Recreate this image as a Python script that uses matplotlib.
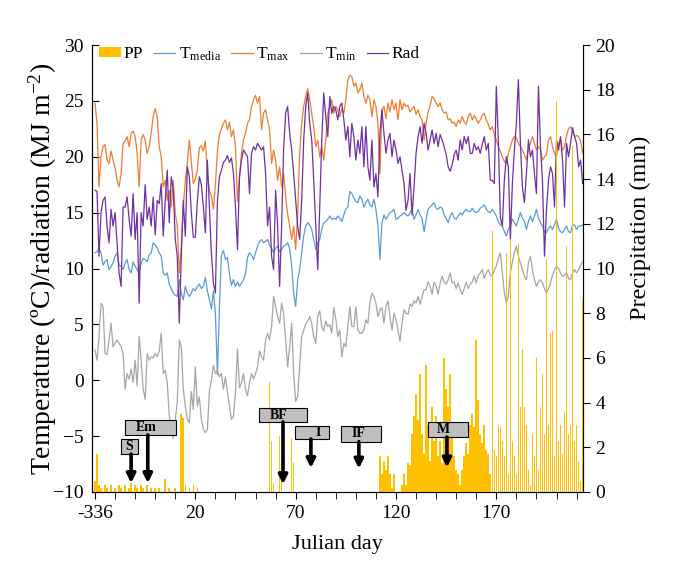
import numpy as np
import matplotlib
matplotlib.use("Agg")
import matplotlib.pyplot as plt
from matplotlib.patches import Patch, Rectangle
from matplotlib.lines import Line2D

plt.rcParams['font.family'] = ['Liberation Serif', 'DejaVu Serif']
plt.rcParams['mathtext.fontset'] = 'custom'
plt.rcParams['mathtext.rm'] = 'Liberation Serif'
plt.rcParams['mathtext.it'] = 'Liberation Serif:italic'

# daily series, day -30 .. 213
days = np.arange(-30, 214)

t_max = [24.8, 23, 17.3, 20, 20.9, 21.1, 19.7, 19.4, 20.5, 19.7,
         19, 17.9, 17.3, 18.5, 21.2, 21.4, 21.8, 20.9, 22.1, 22.3,
         21.8, 20.3, 17.3, 21.5, 22, 21.5, 20.3, 20.9, 22.1, 23.6,
         24.3, 23.6, 20.9, 20, 17.3, 17.9, 16.1, 17, 15.5, 17.9,
         14.9, 13.8, 9.6, 12, 15.5, 17.9, 19.4, 21.5, 19.5, 17.6,
         18, 18.8, 20.8, 21, 20.5, 21.4, 18.5,
         17, 16.5, 15.3, 17.5, 20.5, 22, 22.5, 23,
         23.3, 22.4, 23.1, 21.8, 22.4, 20.9, 16, 18.2, 20.3, 21.5,
         22.1, 23, 23.3, 24.5, 25.1, 25.5, 24.8, 25.4, 22.4, 23.9,
         24.2, 23.3, 22.4, 19.4, 20.6, 19.7, 17.9, 19.1, 17.3, 18.5,
         16.4, 14.9, 13.8, 12.6, 13.8, 11.7, 14.9, 20.3, 23, 24.5,
         25.4, 26.1, 25.1, 23.9, 22.7, 20.9, 21.5, 20, 20.9, 19.7,
         21.5, 23.9, 24.5, 25.1, 23.9, 24.5,
         24.2, 23.6, 24.3, 23.9, 25.1, 26.9, 27.3, 27.2, 26.3, 26.6,
         25.7, 26, 26.6, 25.4, 24.8, 25.5, 25.1, 23.6, 25.1, 24.5,
         23, 18.5, 24.2, 24.5, 23.4, 24.8, 24, 25.1, 24.2, 24.8,
         23.3, 25.1, 24.2, 24.8, 24.5, 24.6, 24, 24.3, 24.5, 23.8,
         24.2, 23.6, 23.3, 21.5, 23, 24, 24.6, 25.4, 25.2, 24.8,
         24.5, 24.8, 24.2, 23.9, 24, 23.3, 23.4, 23, 23.1, 22.7,
         23.3, 23, 23.6, 23.1, 22.9, 23.6, 23.9, 23.3, 23.7, 23.4,
         23, 23.3, 23.7, 23.9, 23.3, 22.9, 22.4, 22.7, 22, 21.5,
         20.9, 20.5, 20, 19.6, 19.4, 20.3, 20.9, 21.5, 21.8, 21.7,
         21.2, 20.9, 20.6, 20.2, 19.7, 20.6, 21.2, 21.8, 21.2, 20.6,
         20.9, 20.6, 19.7, 20, 20.2, 21.5, 21.8, 20.9, 20.3, 20,
         21.2, 21.5, 20.6, 20.9, 21.9, 22.5, 22.7, 22.3, 21.8, 21.9,
         21.8, 21.4, 20.3]

t_media = [11.4, 11.5, 11.8, 11.4, 10.3, 10.6, 10.8, 9.9, 10.2, 10.5,
           11.1, 11.4, 10.3, 10.2, 9.9, 10.5, 10.8, 9.9, 9.6, 10.6,
           10.2, 9.9, 9.6, 10.5, 10.9, 10.8, 10.6, 11.2, 11.4, 12.3,
           12.1, 11.8, 11.4, 11.1, 9.6, 9.4, 9.6, 8.6, 8.2, 7.8,
           7.6, 7.5, 9, 7.8, 7.2, 8.4, 7.8,
           7.5, 7.8, 8.2, 8.0, 8.4, 8.6, 8.2, 8.4, 9.2, 8.0,
           7.2, 6.4, 8.0, 6.0, 0.5, 6.5, 11.2, 11.6, 10.8, 11.0,
           9.5, 8.5, 9.0, 8.4, 8.8, 8.4, 8.7, 9.0, 9.5, 11.0, 11.4,
           11.2, 10.8, 11.4, 12, 12.4, 12.6, 12.3, 12.4, 12.6, 12.1,
           11.8, 11.4, 11.8, 12, 11.5, 11.7, 12, 12.1, 12.3, 11.8,
           10.2, 7.8, 6.6, 9, 9.9, 11.4, 12.9, 13.8, 14.1, 13.9,
           13.5, 12.6, 11.7, 12.3, 12.6, 13.5, 14.1, 14.2, 14.4, 14.7,
           14.4, 14.5, 14.4,
           14.7, 14.5, 14.2, 14.8, 15.3, 15.5, 16.9, 16.7, 16.3, 16,
           15.9, 16.5, 16.2, 15.5, 15.9, 16.2, 15.7, 15.5, 16.2, 15.3,
           13.8, 10.8, 14.1, 14.8, 14.4, 14.7, 15, 15.1, 15.3, 14.4,
           14.5, 14.7, 14.8, 15, 14.8, 14.7, 15, 15.3, 14.4, 14.8,
           15.3, 14.8, 14.5, 13.3, 14.4, 15.3, 15.5, 15.7, 15.9, 15.4,
           15.3, 15.5, 15.4, 14.8, 14.5, 14.1, 14.7, 15, 14.5, 14.4,
           14.7, 15, 14.8, 15.1, 15.3, 15.1, 15.1, 15.4, 15.1, 15,
           15.1, 15.4, 15.5, 15.7, 15.3, 15.1, 15, 15.3, 15, 14.7,
           14.2, 13.9, 13.8, 13.3, 12.9, 13.5, 13.9, 14.4, 14.1, 13.8,
           14.4, 15, 14.5, 14.2, 13.5, 14.2, 14.7, 14.2, 14.7, 15.3,
           14.5, 14.1, 13.8, 13.3, 13.2, 13.6, 13.8, 13.5, 13.9, 14.4,
           13.6, 13.3, 13.2, 13.5, 13.8, 13.3, 13.2, 13.9, 13.9, 13.5,
           13.8, 13.8, 13.9]

t_min = [2.7, 1.8, 3.9, 6.9, 6.6, 2.4, 2.3, 3.6, 5.1, 3,
         3.3, 3.6, 3.3, 3, 2.4, -0.8, 0.6, 0.1, 1, -0.2,
         1.8, -0.5, 3.9, 1.8, -0.8, -1.7, 2.4, 1.8, 2.1, 2,
         2.4, 2.1, 2.6, 4.2, 0.6, 0.9, -0.2, -3.2, -4.3, -5.2,
         -3.5, -2, 3.6, 3, -0.8, -2.3, -3.5, -3.8, -1.0, -2.6,
         1.2, -2.3, -1.5, -3.5, -4.4, -4.7, -4.4, -1.0, 0.0, 1.3,
         0.6,
         0.9, 0.3, 0.6, -0.8, 0.3, -1.1, -2.3, -3.5, -3.2, -1.1,
         2.8, -0.7, -0.2, 0.6, -0.8, -1.4, -0.2, 0.6, 0.1, 0.6,
         1.2, 2.6, 2.1, 1.8, 3.6, 4.2, 3.6, 4.8, 7.5, 6.6,
         5.7, 5.1, 6.9, 6, 3.6, 1.2, 3, 5.1, 0.6, -1.9,
         -1.4, 1.2, 3.9, 4.5, 5, 5.3, 5.7, 5.1, 3.9, 3.3,
         5.7, 6.2, 4.8, 4.4, 5.3, 4.8, 5, 4.2, 6.5, 5.5,
         3.9, 4.5, 2.1, 3.3, 3, 4.8, 6.6, 4.8, 4.8, 6.6,
         4.5, 4.2, 4.2, 4.5, 5.4, 5.1, 6.9, 7.8, 7.5, 6.9,
         5.7, 6.3, 6.5, 5.1, 6.6, 7.1, 5.7, 4.5, 6, 5.4,
         4.5, 3.5, 5.1, 6.3, 6, 5.9, 6.8, 6.6, 7.1, 6.9,
         7.5, 6.8, 7.5, 8.1, 8.1, 8.8, 8.4, 7.7, 8.8, 8.4,
         7.7, 8.7, 9.3, 8.8, 8.6, 9, 9.6, 8.7, 8.8, 8.2,
         8.7, 8.1, 7.7, 8.2, 8.8, 8.2, 8.6, 8.8, 9.3, 8.7,
         9.4, 9.6, 9.9, 9.1, 9.6, 9.9, 9.4, 9.3, 9.9, 10.2,
         10.9, 11.4, 9.6, 7.8, 6.9, 7.5, 9.6, 10.6, 11.4, 12,
         11.1, 10.5, 9.9, 9.3, 9, 10.5, 11.1, 9.9, 9, 8.4,
         8.8, 9, 8.7, 8.2, 7.8, 8.2, 8.7, 9.4, 9.9, 10.2,
         10, 9.6, 9.3, 9.4, 9.6, 9.1, 9, 9.6, 9.9, 9.6,
         9.9, 10.3, 10.6]

rad = [17, 16.9, 11.1, 15, 16.1, 16.4, 13.8, 12.3, 15.3, 13.8,
       15, 12.3, 9.6, 8.4, 15.5, 15.5, 16.4, 14.4, 12.9, 16.7,
       12.6, 15, 6.9, 15, 13.8, 17.5, 14.4, 15.5, 13.8, 16.4,
       13, 16.1, 15.8, 17.6, 12.9, 16.1, 18.8, 14.1, 18.2, 17,
       12.6, 11.1, 5.1, 11.1, 16.1, 12.9, 19.1,
       18.2, 15, 12.8, 12.8, 16, 18.2, 17.5, 15.5, 13.2, 19.7,
       15.5, 11.4, 8.7, 7.8, 16, 18.2, 18.8, 19.5, 19.7, 20.1,
       19.5, 19.9, 18.5, 15.5, 11.7, 18.2, 19.7, 20.6,
       20.3, 20, 16.7, 20.3, 20.9, 20.6, 21.2, 20.9, 20.6, 20.9,
       18.5, 13.8, 15.5, 11.1, 9.9, 17, 13.8, 8.4, 13.8, 20.6,
       23.9, 24.5, 22.1, 20.6, 18.5, 16.1, 13.8, 12.6, 16.1, 21.5,
       24.5, 25.7, 23, 21.5, 17.9, 13.8, 9.9, 15.5, 21.5, 25.7,
       23.6, 21.8, 25.4, 23.9, 24.5, 24.2,
       23.3, 24.5, 24.8, 23.3, 21.5, 22.7, 20, 23, 21.8, 19.7,
       21.5, 20.3, 22.7, 19.1, 22.7, 19.1, 17.9, 21.5, 17.3, 18.5,
       16.4, 22.1, 24.2, 22.1, 20.3, 21.5, 22.1, 20, 21.5, 20.6,
       19.4, 20, 18.8, 17.6, 15.2, 16.1, 18.5, 14.8, 17.3, 20.3,
       21.8, 22.7, 21.2, 23, 22.1, 20.6, 21.5, 22.4, 21.2, 22.1,
       20.9, 22, 21.5, 20.9, 20.2, 19.1, 18.7, 19.3, 20.2, 20.6,
       19.7, 21.5, 20.6, 21.8, 21.2, 21.8, 20.3, 20.3, 21.2, 20.6,
       20.9, 20.3, 21.1, 21.8, 20.6, 21.2, 17.9, 17.9, 17.6, 26.3,
       21.5, 14.6, 13.8, 17.9, 20, 19.1, 12.6, 17.6, 20.6, 23,
       26.9, 21.2, 17.3, 15.9, 18.5, 21.5, 20, 20.6, 18.5, 16.7,
       26.3, 20.9, 17.9, 11.1, 15.3, 17.9, 19.1, 18.5, 15.5, 21.5,
       20.6, 21.8, 19.7, 15.5, 21.2, 20, 21.2, 22.6, 21.8, 21.2,
       19.1, 19.7, 17.6]

# precipitation, only rainy days
pp_day = [-30, -29, -28, -27, -25, -24, -22, -20, -18, -17, -15, -13, -12, -10,
          -9, -7, -6, -4, -2, 0, 2, 5, 7, 10, 13, 14, 15, 17, 19, 21,
          57, 58, 59, 62, 63, 68, 69,
          112, 113, 114, 115, 116, 117, 118, 119, 123, 124, 125, 126, 127, 128,
          129, 130, 131, 132, 133, 134, 135, 136, 137, 138, 139, 140, 141, 142,
          143, 144, 145, 146, 147, 148, 149, 150, 151, 152, 153, 154, 155, 156,
          157, 158, 159, 160, 161, 162, 163, 164, 165, 166, 167, 168, 169, 170,
          171, 172, 173, 174, 175, 176, 177, 178, 179, 180, 181, 182, 183, 184,
          185, 186, 187, 188, 189, 190, 191, 192, 193, 194, 195, 196, 197, 198,
          199, 200, 201, 202, 203, 204, 205, 206, 207, 208, 209, 210, 211, 212, 213]
pp_mm = [0.5, 1.7, 0.3, 0.2, 0.3, 0.2, 0.3, 0.2, 0.3, 0.2, 0.3, 0.2, 0.4, 0.3,
         0.2, 0.3, 0.2, 0.3, 0.2, 0.2, 0.2, 0.6, 0.2, 0.2, 3.5, 3.3, 0.3, 0.2, 0.3, 0.2,
         4.9, 2.3, 0.4, 2.5, 1.7, 2.4, 1.3,
         1.6, 0.8, 1.4, 1.0, 1.6, 0.8, 0.2, 0.8, 0.3, 0.8, 0.3, 1.3, 1.2, 2.6,
         3.4, 4.4, 3.2, 5.3, 2.6, 1.7, 5.7, 3.0, 1.4, 3.8, 2.3, 3.4, 1.6, 2.3,
         1.3, 6.0, 4.6, 3.8, 5.3, 3.0, 1.6, 1.0, 0.8, 0.3, 1.0, 1.6, 2.2, 1.7,
         3.0, 3.5, 2.9, 6.8, 4.1, 2.6, 2.2, 3.0, 1.9, 1.7, 0.8, 11.7, 1.9, 1.6,
         3.0, 2.9, 2.3, 1.6, 10.7, 0.8, 11.3, 2.3, 1.6, 0.8, 11.1, 3.8, 6.4, 3.8,
         3.0, 1.0, 0.3, 2.6, 1.6, 6.0, 1.0, 3.8, 5.3, 2.6, 10.4, 3.0, 7.1, 7.2,
         1.6, 17.5, 2.3, 3.0, 1.7, 3.6, 11.0, 2.6, 3.0, 15.5, 2.3, 3.0, 1.4, 0.5, 8.6]

# phenological stages: label, day of arrow
stages = ['S', 'Em', 'BF', 'I', 'IF', 'M']
stage_day = [-12, -3.7, 63.7, 77.6, 101.5, 145.4]

xtick_pos = [-30, 20, 70, 120, 170]
xtick_lab = ['-336', '20', '70', '120', '170']

c_pp = '#FFC000'
c_med = '#5B9BD5'
c_max = '#ED7D31'
c_min = '#A5A5A5'
c_rad = '#7030A0'

fig = plt.figure(figsize=(6.87, 5.68), dpi=100)
ax = fig.add_axes([92 / 687, 1 - 492 / 568, (583 - 92) / 687, (492 - 45) / 568])
ax2 = ax.twinx()

ax.plot(days, t_media, color=c_med, lw=0.9)
ax.plot(days, t_max, color=c_max, lw=0.9)
ax.plot(days, t_min, color=c_min, lw=0.9)
ax.plot(days, rad, color=c_rad, lw=0.9)
ax.set_ylim(-10, 30)
ax.set_yticks(np.arange(-10, 31, 5))
ax.set_xlim(-31.5, 213.2)
ax.set_xticks(xtick_pos)
ax.set_xticklabels(xtick_lab)
ax.set_xticks(np.arange(-30, 211, 10), minor=True)

# bars sit on the twin axes, above the lines
ax2.bar(pp_day, pp_mm, width=0.8, color=c_pp, linewidth=0, zorder=1)
ax2.set_ylim(0, 20)
ax2.set_yticks(np.arange(0, 21, 2))

for a in (ax, ax2):
    a.spines['top'].set_visible(False)
ax.tick_params(axis='y', direction='in', length=5, labelsize=14, pad=6)
ax.tick_params(axis='x', which='both', direction='out', length=5, labelsize=14, pad=4)
ax2.tick_params(axis='y', direction='out', length=5, labelsize=14, pad=4)

ax.set_xlabel('Julian day', fontsize=16, labelpad=10)
ax.set_ylabel('Temperature (ºC)/radiation (MJ m$^{-2}$)', fontsize=20, labelpad=-4)
ax2.set_ylabel('Precipitation (mm)', fontsize=17.5)
ax2.yaxis.set_label_coords(1.095, 0.59)

# stage boxes and arrows in temperature units (box: x0, x1, y0, y1)
tr = ax.transData
boxes = [(-17, -8.6, -6.6, -5.26), (-15.1, 10.4, -4.9, -3.56), (51.7, 75.6, -3.74, -2.48),
         (69.7, 86.6, -5.26, -4.1), (92.6, 112.5, -5.5, -4.1), (135.9, 155.8, -5.08, -3.74)]
text_x = [-12.8, -4.6, 61.7, 81.1, 101.5, 143.4]
tips = [-9.2, -9.2, -9.3, -7.85, -7.9, -7.8]
for name, d, (x0, x1, y0, y1), tx, tip in zip(stages, stage_day, boxes, text_x, tips):
    ax2.add_patch(Rectangle((x0, y0), x1 - x0, y1 - y0, facecolor='#BFBFBF',
                            edgecolor='black', lw=0.8, zorder=5, transform=tr))
    ax2.text(tx, (y0 + y1) / 2, name, ha='center', va='center', fontsize=10,
             fontweight='bold', zorder=6, transform=tr)
    ax2.annotate('', xy=(d, tip), xytext=(d, y0), xycoords=tr, textcoords=tr,
                 arrowprops=dict(arrowstyle='-|>', lw=2.6, color='black',
                                 mutation_scale=13, shrinkA=0, shrinkB=0), zorder=6)

handles = [Patch(facecolor=c_pp, edgecolor='none'),
           Line2D([], [], color=c_med, lw=0.9),
           Line2D([], [], color=c_max, lw=0.9),
           Line2D([], [], color=c_min, lw=0.9),
           Line2D([], [], color=c_rad, lw=0.9)]
labels = ['PP', r'T$_{\mathrm{media}}$', r'T$_{\mathrm{max}}$', r'T$_{\mathrm{min}}$', 'Rad']
ax2.legend(handles, labels, loc='upper left', bbox_to_anchor=(0.0, 1.015), ncol=5,
           frameon=False, fontsize=12.5, handlelength=1.25, handleheight=0.45,
           handletextpad=0.18, columnspacing=0.6, borderaxespad=0)

fig.savefig('out.png', dpi=100)
